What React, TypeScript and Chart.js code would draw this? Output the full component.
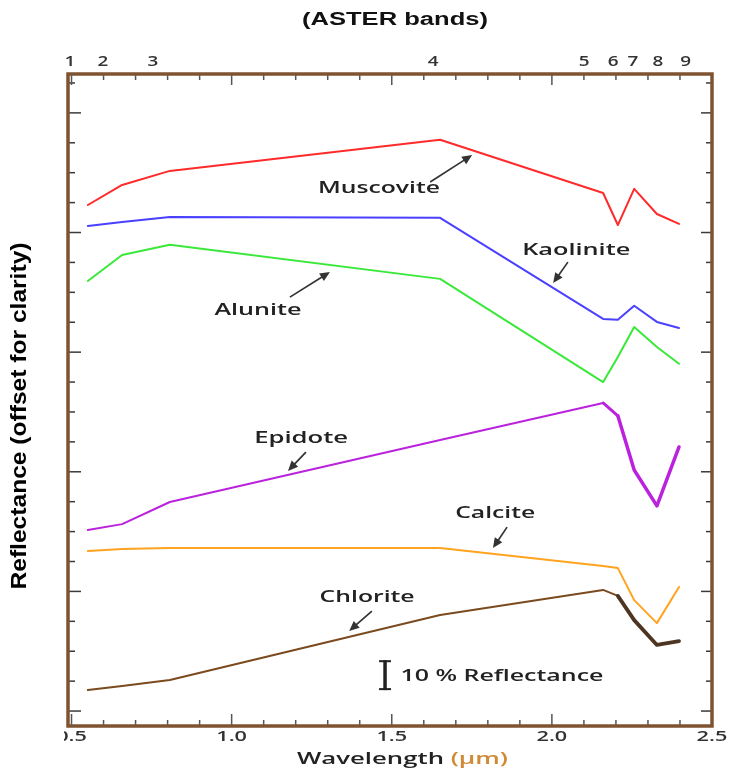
import React, { useEffect, useRef } from 'react';
import { Chart, registerables } from 'chart.js';

Chart.register(...registerables);

// ---------- DATA ----------
const bandWavelengths = [0.551, 0.658, 0.807, 1.651, 2.16, 2.206, 2.257, 2.328, 2.397];
const muscovite = [169.2, 175.9, 180.6, 191.0, 173.2, 162.5, 174.6, 166.2, 162.9];
const kaolinite = [162.2, 163.5, 165.2, 164.9, 131.1, 130.8, 135.5, 130.1, 128.1];
const alunite = [143.8, 152.5, 155.9, 144.5, 110.0, 118.4, 128.4, 121.7, 116.1];
const epidote = [60.5, 62.5, 69.9, 90.6, 103.0, 98.7, 80.6, 68.6, 88.3];
const calcite = [53.5, 54.2, 54.5, 54.5, 48.5, 47.8, 37.1, 29.4, 41.5];
const chlorite = [7.0, 8.4, 10.4, 32.1, 40.5, 38.5, 30.4, 22.1, 23.4];

const xLabelValues = [0.5, 1.0, 1.5, 2.0, 2.5];
const xLabelTexts = ['0.5', '1.0', '1.5', '2.0', '2.5'];
const xMinorTicks = Array.from({ length: 21 }, (_, i) => +(0.5 + i * 0.1).toFixed(2));
const yTickValues = Array.from({ length: 22 }, (_, i) => i * 10);

const bandNames = ['1', '2', '3', '4', '5', '6', '7', '8', '9'];
const bandLabelWavelengths = [0.495, 0.598, 0.754, 1.629, 2.101, 2.191, 2.253, 2.331, 2.418];

const annotationLabels = ['Muscovite', 'Kaolinite', 'Alunite', 'Epidote', 'Calcite', 'Chlorite'];
const annotationX = [1.46, 2.076, 1.082, 1.217, 1.823, 1.423];
const annotationY = [174.9, 154.1, 134.1, 91.3, 66.2, 38.1];
const arrowTailX = [1.62, 2.05, 1.182, 1.232, 1.86, 1.438];
const arrowTailY = [176.9, 150.1, 138.4, 86.6, 61.5, 33.4];
const arrowHeadX = [1.751, 2.004, 1.307, 1.176, 1.816, 1.367];
const arrowHeadY = [185.9, 143.1, 146.8, 80.3, 54.5, 26.8];

const scaleBarX = 1.479;
const scaleBarFrom = 7;
const scaleBarTo = 17;
const scaleBarText = '10 % Reflectance';
const scaleBarTextX = 1.844;
const scaleBarTextY = 11.7;

// ---------- STYLE ----------
const annotationWidths = [122, 108, 87, 94, 80, 95];
const textFont = '600 16px "Open Sans"';
const frameColor = '#7d5331';

function drawFitText(
  ctx: CanvasRenderingContext2D,
  text: string,
  cx: number,
  cy: number,
  font: string,
  color: string,
  opt: { width?: number; sx?: number; rotate?: boolean }
) {
  ctx.save();
  ctx.font = font;
  ctx.fillStyle = color;
  ctx.textAlign = 'center';
  ctx.textBaseline = 'middle';
  const w = ctx.measureText(text).width;
  const s = opt.width ? opt.width / w : opt.sx ?? 1;
  ctx.translate(cx, cy);
  if (opt.rotate) ctx.rotate(-Math.PI / 2);
  ctx.scale(s, 1);
  ctx.fillText(text, 0, 0);
  ctx.restore();
}

function drawArrow(ctx: CanvasRenderingContext2D, x1: number, y1: number, x2: number, y2: number) {
  const ang = Math.atan2(y2 - y1, x2 - x1);
  const hl = 10;
  const hw = 4.5;
  ctx.save();
  ctx.strokeStyle = '#333';
  ctx.fillStyle = '#333';
  ctx.lineWidth = 1.7;
  ctx.beginPath();
  ctx.moveTo(x1, y1);
  ctx.lineTo(x2 - Math.cos(ang) * hl * 0.8, y2 - Math.sin(ang) * hl * 0.8);
  ctx.stroke();
  ctx.beginPath();
  ctx.moveTo(x2, y2);
  ctx.lineTo(x2 - Math.cos(ang) * hl - Math.sin(ang) * hw, y2 - Math.sin(ang) * hl + Math.cos(ang) * hw);
  ctx.lineTo(x2 - Math.cos(ang) * hl + Math.sin(ang) * hw, y2 - Math.sin(ang) * hl - Math.cos(ang) * hw);
  ctx.closePath();
  ctx.fill();
  ctx.restore();
}

const decorPlugin = {
  id: 'decor',
  afterDatasetsDraw(chart: any) {
    const { ctx, chartArea: a } = chart;
    const x = chart.scales.x;
    const y = chart.scales.y;
    const line = (x1: number, y1: number, x2: number, y2: number) => {
      ctx.beginPath();
      ctx.moveTo(x1, y1);
      ctx.lineTo(x2, y2);
      ctx.stroke();
    };
    ctx.save();
    // y ticks (inward, both sides)
    ctx.strokeStyle = '#3a3a3a';
    ctx.lineWidth = 1.5;
    yTickValues.forEach((v) => {
      const py = y.getPixelForValue(v);
      const major = v % 40 === 0;
      line(a.left, py, a.left + (major ? 13 : 7), py);
      line(a.right, py, a.right - (major ? 11 : 6), py);
    });
    // x ticks (inward, top and bottom)
    ctx.strokeStyle = '#555';
    xMinorTicks.forEach((v) => {
      const px = x.getPixelForValue(v);
      if (px < a.left + 3 || px > a.right - 3) return;
      const major = Math.abs(v * 2 - Math.round(v * 2)) < 1e-6;
      line(px, a.bottom, px, a.bottom - (major ? 12 : 6));
      line(px, a.top, px, a.top + (major ? 11 : 6));
    });
    // frame
    ctx.strokeStyle = frameColor;
    ctx.lineWidth = 3.5;
    ctx.strokeRect(a.left, a.top, a.right - a.left, a.bottom - a.top);
    ctx.restore();

    // bottom tick labels
    ctx.save();
    ctx.beginPath();
    ctx.rect(64, a.bottom, 800, 40);
    ctx.clip();
    xLabelValues.forEach((v, i) => {
      drawFitText(ctx, xLabelTexts[i], x.getPixelForValue(v), a.bottom + 11, '600 14px "Open Sans"', '#333', { sx: 1.55 });
    });
    ctx.restore();

    // top band labels
    bandNames.forEach((t, i) => {
      drawFitText(ctx, t, x.getPixelForValue(bandLabelWavelengths[i]), a.top - 12, '600 14px "Open Sans"', '#333', { sx: 1.35 });
    });

    // titles
    drawFitText(ctx, '(ASTER bands)', (a.left + a.right) / 2 + 5, 20, 'bold 18px "Liberation Sans"', '#111', { width: 186 });
    drawFitText(ctx, 'Reflectance (offset for clarity)', 20, 416, 'bold 22px "Liberation Sans"', '#000', { width: 347, rotate: true });

    // x axis title with coloured unit
    ctx.save();
    const f = '600 17px "Open Sans"';
    ctx.font = f;
    const p1 = 'Wavelength ';
    const p2 = '(µm)';
    const w1 = ctx.measureText(p1).width;
    const w2 = ctx.measureText(p2).width;
    const s = 211 / (w1 + w2);
    ctx.translate(297, 759);
    ctx.scale(s, 1);
    ctx.textAlign = 'left';
    ctx.textBaseline = 'middle';
    ctx.fillStyle = '#222';
    ctx.fillText(p1, 0, 0);
    ctx.fillStyle = '#d08a35';
    ctx.fillText(p2, w1, 0);
    ctx.restore();

    // annotations
    annotationLabels.forEach((t, i) => {
      drawFitText(ctx, t, x.getPixelForValue(annotationX[i]), y.getPixelForValue(annotationY[i]), textFont, '#222', { width: annotationWidths[i] });
      drawArrow(
        ctx,
        x.getPixelForValue(arrowTailX[i]),
        y.getPixelForValue(arrowTailY[i]),
        x.getPixelForValue(arrowHeadX[i]),
        y.getPixelForValue(arrowHeadY[i])
      );
    });

    // scale bar
    ctx.save();
    const bx = x.getPixelForValue(scaleBarX);
    const by1 = y.getPixelForValue(scaleBarTo);
    const by2 = y.getPixelForValue(scaleBarFrom);
    ctx.strokeStyle = '#222';
    ctx.lineWidth = 3.5;
    line(bx, by1, bx, by2);
    ctx.lineWidth = 2;
    line(bx - 6, by1 + 1, bx + 6, by1 + 1);
    line(bx - 6, by2 - 1, bx + 6, by2 - 1);
    ctx.restore();
    drawFitText(ctx, scaleBarText, x.getPixelForValue(scaleBarTextX), y.getPixelForValue(scaleBarTextY), textFont, '#222', { width: 203 });
  },
};

function toXY(vals: number[]) {
  return vals.map((v, i) => ({ x: bandWavelengths[i], y: v }));
}

export default function App() {
  const ref = useRef<HTMLCanvasElement | null>(null);
  useEffect(() => {
    if (!ref.current) return;
    const chart = new Chart(ref.current, {
      type: 'line',
      data: {
        datasets: [
          { label: 'Muscovite', data: toXY(muscovite), borderColor: '#ff2a2a', borderWidth: 2 },
          { label: 'Kaolinite', data: toXY(kaolinite), borderColor: '#4a40ff', borderWidth: 2 },
          { label: 'Alunite', data: toXY(alunite), borderColor: '#3ae83a', borderWidth: 2 },
          {
            label: 'Epidote',
            data: toXY(epidote),
            borderColor: '#bb22dd',
            borderWidth: 2,
            segment: { borderWidth: (c: any) => (c.p0DataIndex >= 5 ? 3.5 : c.p0DataIndex >= 4 ? 3 : 2) },
          },
          { label: 'Calcite', data: toXY(calcite), borderColor: '#ffa320', borderWidth: 2 },
          {
            label: 'Chlorite',
            data: toXY(chlorite),
            borderColor: '#7b4a1e',
            borderWidth: 2,
            segment: {
              borderWidth: (c: any) => (c.p0DataIndex >= 5 ? 3.8 : 2),
              borderColor: (c: any) => (c.p0DataIndex >= 5 ? '#4e3522' : '#7b4a1e'),
            },
          },
        ] as any,
      },
      options: {
        animation: false,
        responsive: false,
        devicePixelRatio: 1,
        layout: { padding: { left: 68, top: 74, right: 20, bottom: 43 } },
        elements: { point: { radius: 0, hoverRadius: 0 }, line: { tension: 0, borderCapStyle: 'round', borderJoinStyle: 'round' } },
        plugins: { legend: { display: false }, tooltip: { enabled: false }, title: { display: false } },
        events: [],
        scales: {
          x: { type: 'linear', min: 0.489, max: 2.5, display: false },
          y: { type: 'linear', min: -5, max: 213, display: false },
        },
      } as any,
      plugins: [decorPlugin],
    });
    return () => chart.destroy();
  }, []);
  return (
    <div style={{ position: 'absolute', left: 0, top: 0, width: 732, height: 769, background: '#fff' }}>
      <canvas ref={ref} width={732} height={769} style={{ display: 'block' }} />
    </div>
  );
}
